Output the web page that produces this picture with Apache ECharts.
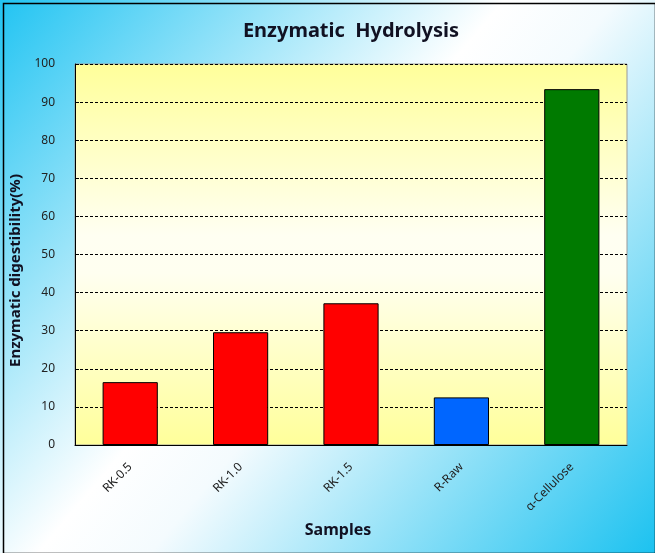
<!DOCTYPE html>
<html><head><meta charset="utf-8">
<script src="https://cdn.jsdelivr.net/npm/echarts@6/dist/echarts.min.js"></script>
<style>html,body{margin:0;padding:0;}#c{width:655px;height:553px;}</style>
</head><body><div id="c"></div>
<script>
const categories = ['RK-0.5', 'RK-1.0', 'RK-1.5', 'R-Raw', 'α-Cellulose'];
const values = [16.5, 29.6, 37.2, 12.5, 93.4];
const barColors = ['#ff0000', '#ff0000', '#ff0000', '#0066ff', '#007a00'];
const yTicks = { min: 0, max: 100, interval: 10 };

const chart = echarts.init(document.getElementById('c'), null, { renderer: 'canvas' });
const font = '"Noto Sans", "DejaVu Sans", sans-serif';
chart.setOption({
  animation: false,
  backgroundColor: {
    type: 'linear', x: 0, y: 0, x2: 1, y2: 1,
    colorStops: [
      { offset: 0, color: '#22c4f2' },
      { offset: 0.45, color: '#ffffff' },
      { offset: 0.55, color: '#f4fbfe' },
      { offset: 1, color: '#1cc2f0' }
    ]
  },
  title: {
    text: 'Enzymatic  Hydrolysis', left: 346, textAlign: 'center', top: 16,
    textStyle: { fontFamily: font, fontSize: 20, fontWeight: 'bold', color: '#111122' }
  },
  graphic: [{
    type: 'rect', left: 1, top: 1, shape: { width: 652, height: 550 },
    style: { fill: 'none', stroke: '#000', lineWidth: 1.5 }, z: 100
  }],
  grid: {
    left: 75, right: 28, top: 64, bottom: 108, show: true,
    borderColor: '#999', borderWidth: 1,
    backgroundColor: {
      type: 'linear', x: 0, y: 0, x2: 0, y2: 1,
      colorStops: [
        { offset: 0, color: '#ffff9a' },
        { offset: 0.45, color: '#fffff2' },
        { offset: 0.55, color: '#fffff0' },
        { offset: 1, color: '#ffff9a' }
      ]
    }
  },
  xAxis: {
    type: 'category', data: categories,
    name: 'Samples', nameLocation: 'middle', nameGap: 77,
    nameTextStyle: { fontFamily: font, fontSize: 16, fontWeight: 'bold', color: '#111122', padding: [0, 26, 0, 0] },
    axisLine: { lineStyle: { color: '#000', width: 1 } },
    axisTick: { inside: true, length: 5, lineStyle: { color: '#000' } },
    axisLabel: { rotate: 45, margin: 20, fontFamily: font, fontSize: 12, color: '#222' }
  },
  yAxis: {
    type: 'value', min: yTicks.min, max: yTicks.max, interval: yTicks.interval,
    name: 'Enzymatic digestibility(%)', nameLocation: 'middle', nameGap: 45,
    nameTextStyle: { fontFamily: font, fontSize: 15, fontWeight: 'bold', color: '#111122', padding: [0, 32, 0, 0] },
    axisLine: { show: true, lineStyle: { color: '#000', width: 1 } },
    axisTick: { show: true, inside: true, length: 4, lineStyle: { color: '#000' } },
    axisLabel: { margin: 20, fontFamily: font, fontSize: 12, color: '#222' },
    splitLine: { show: true, lineStyle: { color: '#000', type: [3, 2], width: 1 } }
  },
  series: [{
    type: 'bar', barWidth: '50%',
    data: values.map((v, i) => ({ value: v, itemStyle: { color: barColors[i] } })),
    itemStyle: { borderColor: '#000', borderWidth: 1 }
  }]
});
</script></body></html>
